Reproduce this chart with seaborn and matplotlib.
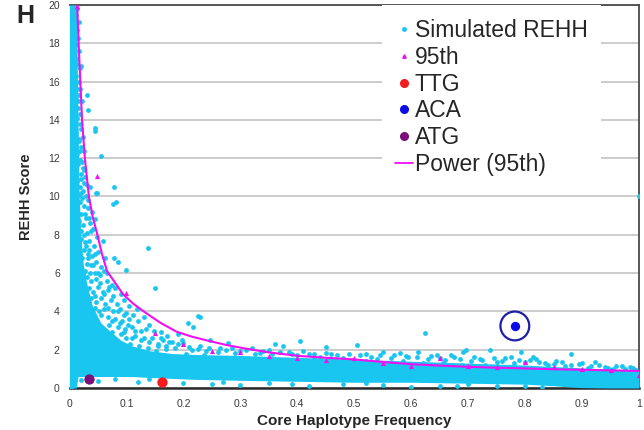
import matplotlib
matplotlib.use("Agg")
import matplotlib.pyplot as plt
from matplotlib.lines import Line2D
import seaborn as sns

# ---------------- data ----------------
# Solid dense core of the simulated REHH cloud (envelope)
core_x = [0, 0.012, 0.015, 0.017, 0.02, 0.024, 0.03, 0.04, 0.055, 0.07, 0.09, 0.11,
          0.14, 0.18, 0.22, 0.3, 0.4, 0.5, 0.6, 0.7, 0.8, 0.85, 0.88, 0.9, 0.95, 1.0]
core_top = [20, 20, 14, 10, 8, 6.5, 5.5, 4.3, 3.4, 3.0, 2.5, 2.2,
            1.95, 1.8, 1.75, 1.7, 1.6, 1.5, 1.4, 1.3, 1.2, 1.12, 1.08, 1.05, 0.97, 0.9]
core_bottom = [0.0, 0.0, 0.6, 0.6, 0.6, 0.6, 0.6, 0.6, 0.6, 0.6, 0.6, 0.6,
               0.55, 0.5, 0.45, 0.4, 0.35, 0.3, 0.3, 0.25, 0.2, 0.12, 0.05, 0.02, 0.0, 0.0]

# Individual simulated REHH points around the core (x, y)
sim_left_pts = [
    (0.012, 19.5), (0.013, 18.7), (0.011, 17.9), (0.014, 17.2), (0.018, 16.7), (0.012, 16.3),
    (0.021, 16.8), (0.013, 15.6), (0.017, 15.3), (0.022, 15.0), (0.030, 15.3), (0.032, 14.5),
    (0.012, 15.1), (0.015, 14.6), (0.013, 14.1), (0.018, 13.8), (0.012, 13.3), (0.016, 12.9),
    (0.021, 12.6), (0.014, 12.2), (0.019, 11.9), (0.025, 12.4), (0.023, 11.5), (0.044, 13.6),
    (0.044, 13.4), (0.055, 12.1), (0.015, 11.7), (0.020, 11.2), (0.027, 11.0), (0.013, 10.8),
    (0.018, 10.5), (0.024, 10.3), (0.030, 10.6), (0.016, 10.1), (0.022, 9.9), (0.036, 10.5),
    (0.046, 10.2), (0.049, 10.2), (0.079, 10.5), (0.077, 9.6), (0.081, 9.7),
    (0.018, 9.7), (0.026, 9.5), (0.033, 9.4), (0.020, 9.1), (0.029, 8.9), (0.040, 9.2),
    (0.017, 8.7), (0.024, 8.5), (0.036, 8.6), (0.045, 8.8), (0.021, 8.2), (0.031, 8.1),
    (0.041, 8.3), (0.048, 7.9), (0.015, 7.6), (0.017, 7.0),
    (0.020, 7.8), (0.027, 7.6), (0.035, 7.7), (0.043, 7.4), (0.025, 7.2), (0.032, 7.0),
    (0.040, 6.9), (0.050, 7.1), (0.058, 7.7), (0.022, 6.8), (0.030, 6.5), (0.038, 6.4),
    (0.047, 6.6), (0.055, 6.3), (0.062, 6.8), (0.079, 6.8), (0.086, 6.6), (0.028, 6.1),
    (0.044, 6.0), (0.060, 6.1), (0.100, 6.16), (0.137, 7.3), (0.023, 5.9), (0.026, 5.4),
    (0.014, 19.8), (0.016, 19.1), (0.015, 18.3), (0.017, 17.6), (0.014, 16.9), (0.016, 16.0),
    (0.019, 15.6), (0.015, 15.0), (0.018, 14.3), (0.020, 13.5), (0.017, 13.0), (0.023, 13.1),
    (0.019, 12.4), (0.022, 11.8), (0.026, 11.4), (0.020, 10.9), (0.025, 10.7), (0.029, 10.0),
    (0.021, 10.2), (0.032, 9.8), (0.027, 9.1), (0.034, 8.9), (0.038, 8.2), (0.025, 8.0),
    (0.029, 7.4), (0.035, 7.2), (0.045, 7.0), (0.033, 6.8), (0.041, 6.4), (0.050, 6.0),
    (0.036, 6.0), (0.053, 5.9), (0.065, 6.0),
]
sim_mid_pts = [
    (0.030, 5.8), (0.037, 5.6), (0.046, 5.7), (0.053, 5.5), (0.066, 5.6), (0.074, 5.4),
    (0.034, 5.2), (0.042, 5.0), (0.050, 5.3), (0.058, 5.0), (0.068, 5.1), (0.080, 5.2),
    (0.090, 4.9), (0.038, 4.7), (0.047, 4.5), (0.056, 4.7), (0.063, 4.4), (0.072, 4.6),
    (0.083, 4.4), (0.095, 4.6), (0.105, 4.3), (0.118, 4.1), (0.150, 5.2), (0.044, 4.2),
    (0.052, 4.0), (0.060, 4.1), (0.077, 4.0), (0.088, 4.1), (0.100, 3.9), (0.112, 3.8),
    (0.055, 3.8), (0.068, 3.7), (0.080, 3.6), (0.093, 3.5), (0.105, 3.6), (0.120, 3.5),
    (0.130, 3.7), (0.140, 3.3), (0.070, 3.3), (0.085, 3.2), (0.098, 3.1), (0.110, 3.2),
    (0.125, 3.0), (0.135, 3.1), (0.148, 3.0), (0.160, 2.9), (0.172, 2.7), (0.190, 2.8),
    (0.208, 3.38), (0.217, 3.2), (0.226, 3.76), (0.075, 2.9), (0.090, 2.8), (0.115, 2.7),
    (0.130, 2.6), (0.145, 2.6), (0.165, 2.5), (0.180, 2.4), (0.198, 2.5), (0.100, 2.6),
    (0.065, 2.7), (0.082, 2.5), (0.107, 2.3), (0.122, 2.2), (0.138, 2.1), (0.152, 1.95),
    (0.155, 2.3), (0.170, 2.2), (0.185, 2.1), (0.200, 2.35), (0.215, 2.0), (0.230, 2.2),
    (0.245, 2.1), (0.260, 1.9), (0.279, 2.37), (0.247, 2.5), (0.229, 3.72), (0.275, 2.0),
    (0.290, 1.85), (0.310, 2.0), (0.325, 1.8), (0.340, 1.95), (0.360, 2.3), (0.375, 2.2),
    (0.355, 1.75), (0.385, 1.9), (0.400, 1.7), (0.404, 2.47), (0.236, 1.7), (0.205, 1.8),
    (0.070, 5.3), (0.076, 4.8), (0.061, 4.9), (0.045, 4.8), (0.068, 4.2), (0.085, 4.0),
    (0.095, 3.8), (0.075, 3.5), (0.088, 3.4), (0.102, 3.3), (0.115, 3.0), (0.095, 2.9),
    (0.110, 2.6), (0.125, 2.5), (0.140, 2.4), (0.155, 2.2), (0.170, 2.05), (0.160, 2.6),
    (0.175, 2.4), (0.190, 2.3), (0.210, 2.15), (0.225, 2.05), (0.240, 1.95), (0.265, 2.1),
    (0.285, 2.1), (0.300, 1.95), (0.320, 2.1), (0.335, 1.85), (0.350, 2.0), (0.370, 1.9),
    (0.390, 1.8),
]
sim_right_pts = [
    (0.420, 1.8), (0.440, 1.6), (0.451, 2.16), (0.460, 1.75), (0.480, 1.55), (0.504, 2.25),
    (0.510, 1.7), (0.530, 1.6), (0.551, 1.9), (0.565, 1.55), (0.580, 1.84), (0.595, 1.6),
    (0.612, 1.9), (0.624, 2.86), (0.630, 1.5), (0.645, 1.7), (0.660, 1.45), (0.675, 1.6),
    (0.691, 1.9), (0.697, 1.98), (0.705, 1.4), (0.720, 1.5), (0.738, 1.98), (0.750, 1.35),
    (0.765, 1.55), (0.780, 1.3), (0.793, 1.9), (0.808, 1.46), (0.814, 1.63), (0.825, 1.35),
    (0.840, 1.2), (0.855, 1.4), (0.870, 1.15), (0.881, 1.78), (0.895, 1.25), (0.910, 1.05),
    (0.922, 1.37), (0.940, 1.1), (0.955, 1.0), (0.970, 1.15), (0.984, 1.11), (0.995, 0.95),
    (1.000, 10.0), (0.430, 1.5), (0.470, 1.45), (0.520, 1.4), (0.540, 1.5), (0.585, 1.4),
    (0.620, 1.3), (0.655, 1.3), (0.690, 1.2), (0.730, 1.2),
    (0.410, 1.95), (0.430, 1.8), (0.450, 1.85), (0.470, 1.7), (0.490, 1.8), (0.520, 1.75),
    (0.545, 1.7), (0.570, 1.72), (0.590, 1.65), (0.610, 1.6), (0.635, 1.65), (0.650, 1.55),
    (0.670, 1.7), (0.685, 1.5), (0.710, 1.6), (0.725, 1.45), (0.745, 1.55), (0.760, 1.4),
    (0.775, 1.6), (0.790, 1.45), (0.800, 1.35), (0.820, 1.5), (0.835, 1.3), (0.850, 1.25),
    (0.865, 1.35), (0.880, 1.2), (0.900, 1.3), (0.915, 1.15), (0.930, 1.2), (0.945, 1.05),
    (0.960, 1.15), (0.975, 1.0), (0.990, 1.05),
]
sim_bottom_pts = [
    (0.003, 0.05), (0.020, 0.4), (0.050, 0.35), (0.080, 0.45), (0.120, 0.3), (0.200, 0.25),
    (0.250, 0.2), (0.300, 0.15), (0.350, 0.25), (0.420, 0.1), (0.480, 0.2), (0.550, 0.15),
    (0.600, 0.05), (0.650, 0.12), (0.700, 0.2), (0.750, 0.08), (0.800, 0.1), (0.140, 0.45),
    (0.270, 0.3), (0.390, 0.2), (0.520, 0.25), (0.680, 0.1), (0.830, 0.05),
]

# 95th percentile points
p95_x = [0.014, 0.049, 0.1, 0.15, 0.2, 0.25, 0.3, 0.35, 0.4, 0.45, 0.5, 0.55, 0.6,
         0.65, 0.7, 0.75, 0.8, 0.85, 0.9, 0.95, 1.0]
p95_y = [19.95, 11.07, 4.96, 2.86, 2.28, 1.95, 1.9, 1.67, 1.55, 1.46, 1.55, 1.32, 1.15,
         1.55, 1.15, 1.11, 1.37, 1.08, 0.98, 0.94, 0.68]

# Power (95th) trend line, read at points along the curve
power_x = [0.0135, 0.016, 0.019, 0.022, 0.027, 0.034, 0.041, 0.049, 0.057, 0.066, 0.08,
           0.094, 0.112, 0.135, 0.16, 0.188, 0.215, 0.246, 0.275, 0.305, 0.35, 0.404,
           0.45, 0.497, 0.55, 0.603, 0.65, 0.697, 0.75, 0.79, 0.85, 0.9, 0.95, 1.0]
power_y = [20, 18, 16, 14, 12, 10, 8.9, 8, 7, 6.1, 5.5,
           4.9, 4.4, 3.9, 3.4, 2.94, 2.68, 2.45, 2.25, 2.08, 1.86, 1.67,
           1.58, 1.5, 1.36, 1.24, 1.17, 1.11, 1.06, 1.03, 0.98, 0.95, 0.92, 0.89]

# Highlighted core haplotypes
ttg_x, ttg_y = [0.162], [0.30]
aca_x, aca_y = [0.782], [3.24]
atg_x, atg_y = [0.034], [0.49]

x_ticks = [0, 0.1, 0.2, 0.3, 0.4, 0.5, 0.6, 0.7, 0.8, 0.9, 1.0]
x_tick_labels = ["0", "0.1", "0.2", "0.3", "0.4", "0.5", "0.6", "0.7", "0.8", "0.9", "1"]
y_ticks = [0, 2, 4, 6, 8, 10, 12, 14, 16, 18, 20]
y_tick_labels = [str(v) for v in y_ticks]

legend_labels = ["Simulated REHH", "95th", "TTG", "ACA", "ATG", "Power (95th)"]

# ---------------- styling ----------------
CYAN = "#18C6EF"
MAGENTA = "#F010F0"
RED = "#F41C1C"
BLUE = "#0B0BEA"
PURPLE = "#7B0F7B"
RING = "#1E1EA8"

sns.set_style("white")
plt.rcParams["font.family"] = ["Liberation Sans", "DejaVu Sans"]

fig = plt.figure(figsize=(6.44, 4.30), dpi=100)
ax = fig.add_axes([69.5 / 644, 1 - 388 / 430, (639 - 69.5) / 644, (388 - 5) / 430])

ax.set_axisbelow(True)
ax.yaxis.grid(True, color="#C4C4C4", linewidth=1.2)
ax.xaxis.grid(False)

# dense core of the simulated cloud
ax.fill_between(core_x, core_bottom, core_top, color=CYAN, linewidth=0, zorder=1)

sim_pts = sim_left_pts + sim_mid_pts + sim_right_pts + sim_bottom_pts
sim_x = [p[0] for p in sim_pts]
sim_y = [p[1] for p in sim_pts]
sns.scatterplot(x=sim_x, y=sim_y, ax=ax, color=CYAN, s=12, linewidth=0,
                legend=False, zorder=2)

sns.lineplot(x=power_x, y=power_y, ax=ax, sort=False, estimator=None,
             color=MAGENTA, linewidth=1.5, zorder=3)
sns.scatterplot(x=p95_x, y=p95_y, ax=ax, color=MAGENTA, marker="^", s=14,
                linewidth=0, legend=False, zorder=4)

sns.scatterplot(x=ttg_x, y=ttg_y, ax=ax, color=RED, s=55, linewidth=0,
                legend=False, zorder=5)
sns.scatterplot(x=atg_x, y=atg_y, ax=ax, color=PURPLE, s=55, linewidth=0,
                legend=False, zorder=5)
sns.scatterplot(x=aca_x, y=aca_y, ax=ax, color=BLUE, s=45, linewidth=0,
                legend=False, zorder=5)
ax.scatter(aca_x, aca_y, s=430, facecolors="none", edgecolors=RING,
           linewidths=1.6, zorder=5)

ax.set_xlim(0, 1)
ax.set_ylim(0, 20)
ax.set_xticks(x_ticks)
ax.set_xticklabels(x_tick_labels)
ax.set_yticks(y_ticks)
ax.set_yticklabels(y_tick_labels)
ax.tick_params(axis="both", length=0, labelsize=7.5, labelcolor="#3A3A3A")
ax.tick_params(axis="x", pad=8)
ax.tick_params(axis="y", pad=7)

for side in ["top", "right", "bottom", "left"]:
    ax.spines[side].set_visible(True)
    ax.spines[side].set_zorder(0.6)
ax.spines["top"].set_color("#4A4A4A")
ax.spines["top"].set_linewidth(1.3)
ax.spines["right"].set_color("#4A4A4A")
ax.spines["right"].set_linewidth(1.3)
ax.spines["bottom"].set_color("#2A2A2A")
ax.spines["bottom"].set_linewidth(1.8)
ax.spines["left"].set_color("#BBBBBB")
ax.spines["left"].set_linewidth(1.0)

ax.set_xlabel("Core Haplotype Frequency", fontsize=11, fontweight="bold", va="center")
ax.xaxis.set_label_coords(0.5, -0.086)
ax.set_ylabel("REHH Score", fontsize=10.5, fontweight="bold", va="center")
ax.yaxis.set_label_coords(-0.076, 0.5)

fig.text(25 / 644, 1 - 16 / 430, "H", fontsize=18, fontweight="bold",
         ha="center", va="center")

handles = [
    Line2D([], [], ls="none", marker="o", markersize=2.5, color=CYAN),
    Line2D([], [], ls="none", marker="^", markersize=2.5, color=MAGENTA),
    Line2D([], [], ls="none", marker="o", markersize=5.5, color=RED),
    Line2D([], [], ls="none", marker="o", markersize=5.5, color=BLUE),
    Line2D([], [], ls="none", marker="o", markersize=5.5, color=PURPLE),
    Line2D([], [], color=MAGENTA, linewidth=1.3),
]
leg = ax.legend(handles, legend_labels, loc="upper left", bbox_to_anchor=(0.548, 1.0),
                fontsize=16.5, frameon=True, framealpha=1, facecolor="white",
                edgecolor="none", fancybox=False, borderpad=0.6, labelspacing=0.17,
                handlelength=0.75, handletextpad=0.1, borderaxespad=0.0)
leg.set_zorder(10)

fig.savefig("out.png", dpi=100)
